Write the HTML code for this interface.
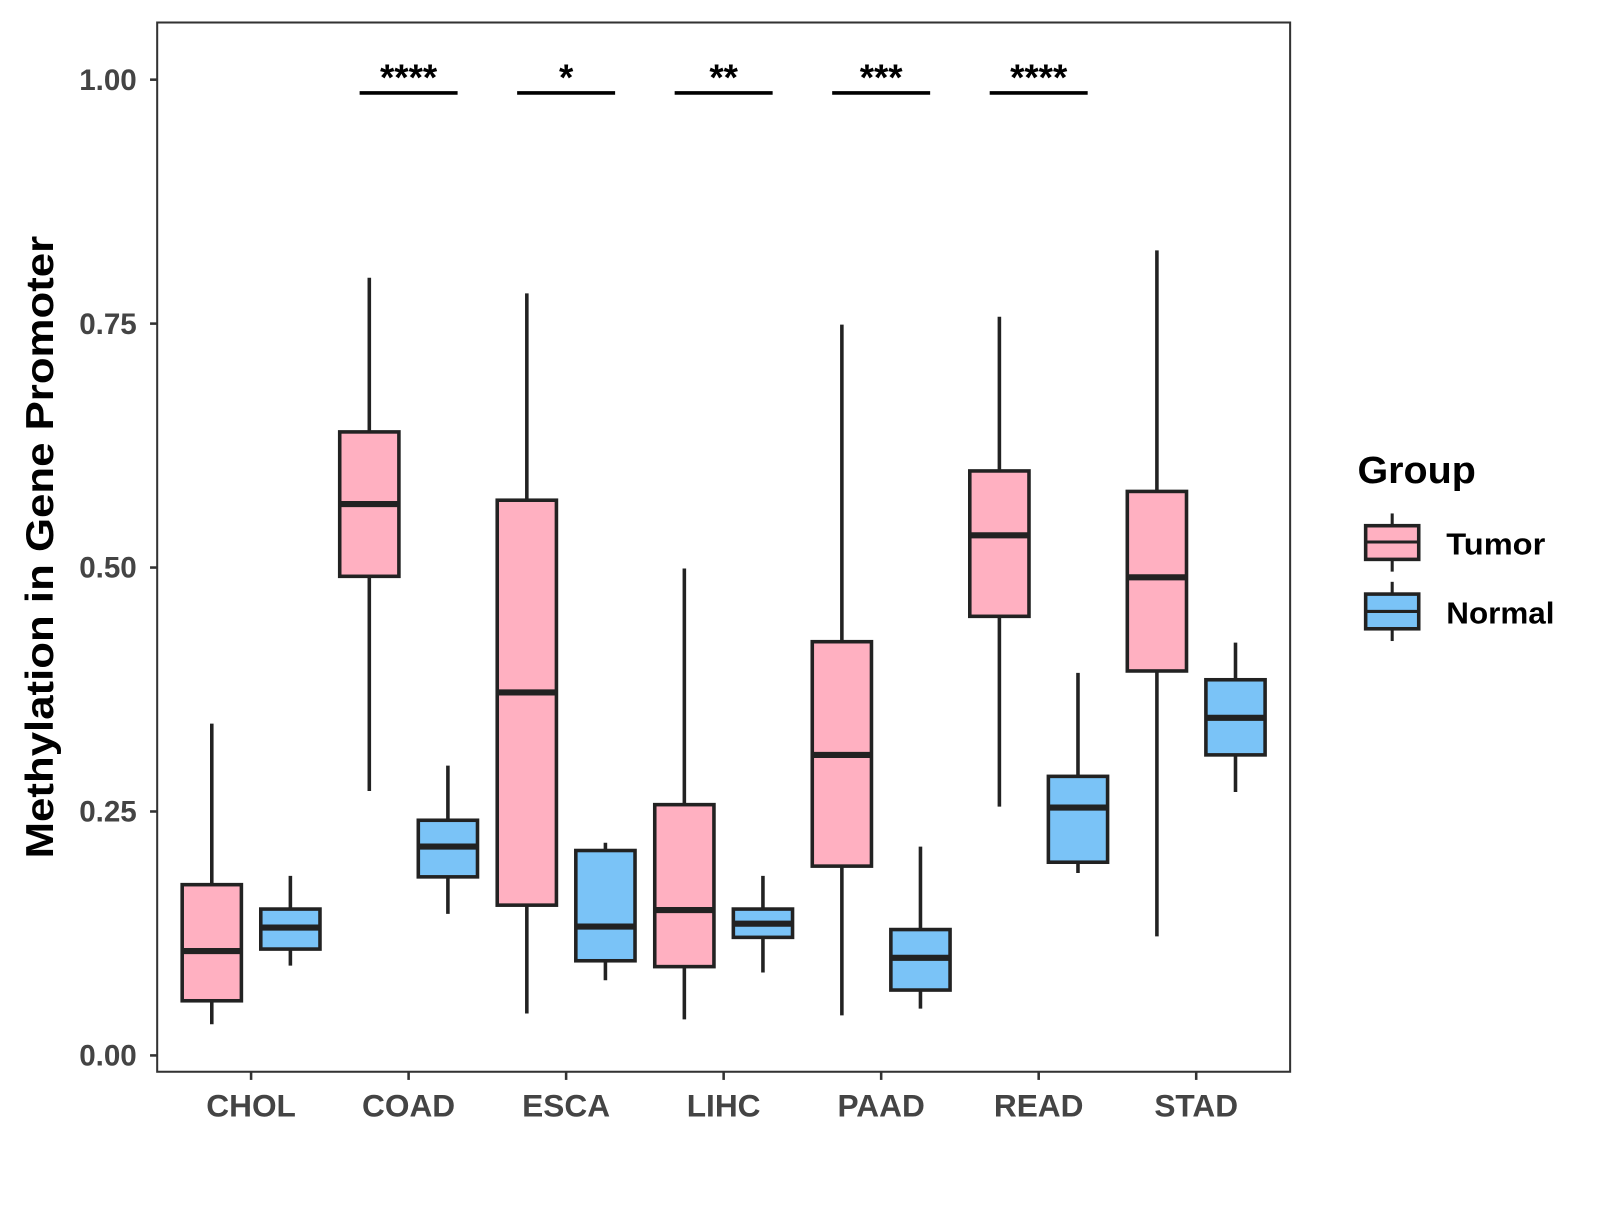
<!DOCTYPE html>
<html><head><meta charset="utf-8"><style>
body{margin:0;background:#fff;}
svg text{font-family:"Liberation Sans",Arial,sans-serif;font-weight:bold;}
</style></head><body>
<svg id="chart" width="1600" height="1200" viewBox="0 0 1567.6 1175.6" xmlns="http://www.w3.org/2000/svg">
<rect width="1600" height="1200" fill="#fff"/>
<g id="plot"></g>
<text transform="translate(52,536) rotate(-90)" text-anchor="middle" font-size="38" fill="#000" textLength="610" lengthAdjust="spacingAndGlyphs">Methylation in Gene Promoter</text>
<g>
<text x="1330" y="473" font-size="37" fill="#000" textLength="116" lengthAdjust="spacingAndGlyphs">Group</text>
<g>
<line x1="1364" y1="503" x2="1364" y2="560" stroke="#222" stroke-width="3"/>
<rect x="1338" y="515" width="52" height="33" fill="#FFB0C1" stroke="#222" stroke-width="3.5"/>
<line x1="1338" y1="531" x2="1390" y2="531" stroke="#222" stroke-width="3"/>
<text x="1417" y="543" font-size="30" fill="#000" textLength="97" lengthAdjust="spacingAndGlyphs">Tumor</text></g>
<g>
<line x1="1364" y1="570" x2="1364" y2="628" stroke="#222" stroke-width="3"/>
<rect x="1338" y="582" width="52" height="34" fill="#7AC3F7" stroke="#222" stroke-width="3.5"/>
<line x1="1338" y1="599" x2="1390" y2="599" stroke="#222" stroke-width="3"/>
<text x="1417" y="611" font-size="30" fill="#000" textLength="106" lengthAdjust="spacingAndGlyphs">Normal</text></g>
</g>
</svg>
<script>
const categories=["CHOL","COAD","ESCA","LIHC","PAAD","READ","STAD"];
// [low, q1, median, q3, high]
const tumorStats=[[0.032,0.056,0.107,0.175,0.340],[0.271,0.491,0.565,0.639,0.797],[0.043,0.154,0.372,0.569,0.781],[0.037,0.091,0.149,0.257,0.499],[0.041,0.194,0.308,0.424,0.749],[0.255,0.450,0.533,0.599,0.757],[0.122,0.394,0.490,0.578,0.825]];
const normalStats=[[0.092,0.109,0.131,0.150,0.184],[0.145,0.183,0.214,0.241,0.297],[0.077,0.097,0.132,0.210,0.218],[0.085,0.121,0.135,0.150,0.184],[0.048,0.067,0.100,0.129,0.214],[0.187,0.198,0.254,0.286,0.392],[0.270,0.308,0.346,0.385,0.423]];
const signif=["","****","*","**","***","****",""];
const yTicks=[0,0.25,0.5,0.75,1.0];
const yTickLabels=["0.00","0.25","0.50","0.75","1.00"];

const NS="http://www.w3.org/2000/svg";
const g=document.getElementById('plot');
const L=154,R=1264,T=22,B=1050;
const y=v=>1034-v*956;
const x=i=>246+i*154.33;
function mk(t,a,p){const e=document.createElementNS(NS,t);for(const k in a)e.setAttribute(k,a[k]);(p||g).appendChild(e);return e;}
yTicks.forEach((v,i)=>{
 const t=mk('line',{x1:147,x2:L,y1:y(v),y2:y(v),stroke:'#333','stroke-width':2.5});
 
 
 const l=mk('text',{x:134,y:y(v)+10,'text-anchor':'end','font-size':29,fill:'#444'});l.textContent=yTickLabels[i];
 
 
});
categories.forEach((c,i)=>{
 const t=mk('line',{x1:x(i),x2:x(i),y1:B,y2:B+8,stroke:'#333','stroke-width':2.5});
 
 
 const l=mk('text',{x:x(i),y:1094,'text-anchor':'middle','font-size':31,fill:'#444'});l.textContent=c;
 
 
 [[tumorStats[i],-38.5,'#FFB0C1','tumor'],[normalStats[i],38.5,'#7AC3F7','normal']].forEach(([s,off,col,nm])=>{
  const cx=x(i)+off;
  const bg=mk('g',{});
  
  
  mk('line',{x1:cx,x2:cx,y1:y(s[4]),y2:y(s[0]),stroke:'#222','stroke-width':3.5},bg);
  mk('rect',{x:cx-29,y:y(s[3]),width:58,height:y(s[1])-y(s[3]),fill:col,stroke:'#222','stroke-width':3.5},bg);
  mk('line',{x1:cx-29,x2:cx+29,y1:y(s[2]),y2:y(s[2]),stroke:'#222','stroke-width':6},bg);
 });
 if(signif[i]){
  const sb=mk('line',{x1:x(i)-48,x2:x(i)+48,y1:91,y2:91,stroke:'#000','stroke-width':3.5});
  
  
  const st=mk('text',{x:x(i),y:88,'text-anchor':'middle','font-size':36,fill:'#000'});st.textContent=signif[i];
  
  
 }
});
const fr=mk('rect',{x:L,y:T,width:R-L,height:B-T,fill:'none',stroke:'#333','stroke-width':2});


</script>
</body></html>
